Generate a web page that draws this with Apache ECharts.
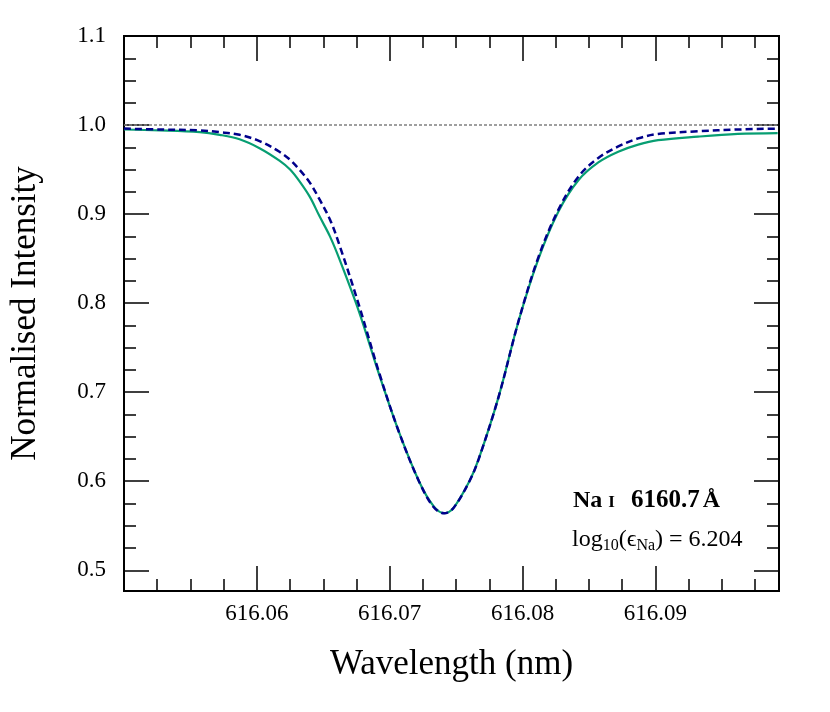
<!DOCTYPE html>
<html>
<head>
<meta charset="utf-8">
<script src="https://cdn.jsdelivr.net/npm/echarts@6/dist/echarts.min.js"></script>
<style>
  html, body { margin: 0; padding: 0; background: #fff; }
  #chart { width: 830px; height: 712px; }
</style>
</head>
<body>
<div id="chart"></div>
<script>
(function() {
  // wavelength grid (nm) and the two line profiles
  var wavelength = [616.0500, 616.0527, 616.0557, 616.0572, 616.0587, 616.0602, 616.0617, 616.0625,
    616.0632, 616.0640, 616.0647, 616.0655, 616.0662, 616.0677, 616.0692, 616.0707, 616.0722,
    616.0733, 616.0741, 616.0748, 616.0760, 616.0767, 616.0782, 616.0797, 616.0812, 616.0827,
    616.0842, 616.0857, 616.0872, 616.0887, 616.0902, 616.0932, 616.0962, 616.0992];
  var observed = [0.995, 0.994, 0.992, 0.989, 0.984, 0.974, 0.960, 0.950,
    0.937, 0.919, 0.898, 0.875, 0.850, 0.790, 0.720, 0.655, 0.600,
    0.572, 0.564, 0.570, 0.600, 0.625, 0.695, 0.780, 0.850, 0.903,
    0.938, 0.958, 0.970, 0.978, 0.983, 0.987, 0.990, 0.991];
  var model = [0.996, 0.995, 0.994, 0.992, 0.989, 0.982, 0.970, 0.961,
    0.950, 0.935, 0.917, 0.894, 0.866, 0.797, 0.722, 0.655, 0.600,
    0.571, 0.564, 0.570, 0.600, 0.625, 0.695, 0.780, 0.852, 0.905,
    0.942, 0.963, 0.976, 0.985, 0.990, 0.993, 0.995, 0.996];
  var continuum = 1.0;

  var xRange = [616.05, 616.0993];
  var yRange = [0.4767, 1.1];
  var xMajorTicks = [616.06, 616.07, 616.08, 616.09];
  var xMinorTicks = [616.0525, 616.055, 616.0575, 616.0625, 616.065, 616.0675, 616.0725, 616.075,
    616.0775, 616.0825, 616.085, 616.0875, 616.0925, 616.095, 616.0975];
  var yMajorTicks = [0.5, 0.6, 0.7, 0.8, 0.9, 1.0, 1.1];
  var yMinorTicks = [0.525, 0.55, 0.575, 0.625, 0.65, 0.675, 0.725, 0.75, 0.775, 0.825, 0.85, 0.875,
    0.925, 0.95, 0.975, 1.025, 1.05, 1.075];

  var serif = '"Liberation Serif", "DejaVu Serif", serif';
  var ink = '#000';

  function xAxis(position, ticks, len, labels, name) {
    return {
      type: 'value', position: position, min: xRange[0], max: xRange[1],
      name: name || '', nameLocation: 'middle', nameGap: 56,
      nameTextStyle: { color: ink, fontFamily: serif, fontSize: 35 },
      axisLine: { show: true, onZero: false, lineStyle: { color: ink, width: 2 } },
      axisTick: { show: true, inside: true, length: len, customValues: ticks, lineStyle: { color: ink, width: 1.5 } },
      axisLabel: labels ? {
        show: true, customValues: labels, margin: 11, color: ink, fontFamily: serif, fontSize: 23,
        formatter: function(v) { return v.toFixed(2); }
      } : { show: false },
      splitLine: { show: false }
    };
  }

  function yAxis(position, ticks, len, labels, name) {
    return {
      type: 'value', position: position, min: yRange[0], max: yRange[1],
      name: name || '', nameLocation: 'middle', nameGap: 81,
      nameTextStyle: { color: ink, fontFamily: serif, fontSize: 35 },
      axisLine: { show: true, onZero: false, lineStyle: { color: ink, width: 2 } },
      axisTick: { show: true, inside: true, length: len, customValues: ticks, lineStyle: { color: ink, width: 1.5 } },
      axisLabel: labels ? {
        show: true, customValues: labels, margin: 18, color: ink, fontFamily: serif, fontSize: 23,
        formatter: function(v) { return v.toFixed(1); }
      } : { show: false },
      splitLine: { show: false }
    };
  }

  function pairs(ys) {
    return wavelength.map(function(w, i) { return [w, ys[i]]; });
  }

  var chart = echarts.init(document.getElementById('chart'), null, { renderer: 'canvas' });

  chart.setOption({
    animation: false,
    backgroundColor: '#fff',
    grid: { left: 124, right: 51, top: 36, bottom: 121 },
    xAxis: [
      xAxis('bottom', xMajorTicks, 25, xMajorTicks, 'Wavelength (nm)'),
      xAxis('bottom', xMinorTicks, 12),
      xAxis('top', xMajorTicks, 25),
      xAxis('top', xMinorTicks, 12)
    ],
    yAxis: [
      yAxis('left', yMajorTicks, 25, yMajorTicks, 'Normalised Intensity'),
      yAxis('left', yMinorTicks, 12),
      yAxis('right', yMajorTicks, 25),
      yAxis('right', yMinorTicks, 12)
    ],
    series: [{
      type: 'line',
      data: pairs(observed),
      smooth: 0.35,
      showSymbol: false,
      lineStyle: { color: '#079e72', width: 2.2 },
      markLine: {
        silent: true, symbol: 'none', label: { show: false },
        lineStyle: { color: '#808080', type: [3, 2], width: 1.5 },
        data: [{ yAxis: continuum }]
      },
      z: 2
    }, {
      type: 'line',
      data: pairs(model),
      smooth: 0.35,
      showSymbol: false,
      lineStyle: { color: '#00008b', width: 2.5, type: [7, 4] },
      z: 3
    }],
    graphic: [{
      type: 'text', left: 573, top: 488,
      style: {
        text: '{n|Na}{s|I}{b|6160.7}{a|Å}',
        fill: ink,
        rich: {
          n: { fontFamily: serif, fontSize: 24, fontWeight: 'bold', fill: ink },
          s: { fontFamily: serif, fontSize: 17, fontWeight: 'bold', fill: ink, padding: [4, 16, 0, 6] },
          b: { fontFamily: serif, fontSize: 25, fontWeight: 'bold', fill: ink },
          a: { fontFamily: serif, fontSize: 24, fontWeight: 'bold', fill: ink, padding: [0, 0, 0, 3] }
        }
      }
    }, {
      type: 'text', left: 572, top: 528,
      style: {
        text: '{t|log}{u|10}{t|(ϵ}{u|Na}{t|) = 6.204}',
        fill: ink,
        rich: {
          t: { fontFamily: serif, fontSize: 24, fill: ink },
          u: { fontFamily: serif, fontSize: 16, fill: ink, padding: [11, 0, 0, 0] }
        }
      }
    }]
  });

  window.addEventListener('resize', function() { chart.resize(); });
})();
</script>
</body>
</html>
